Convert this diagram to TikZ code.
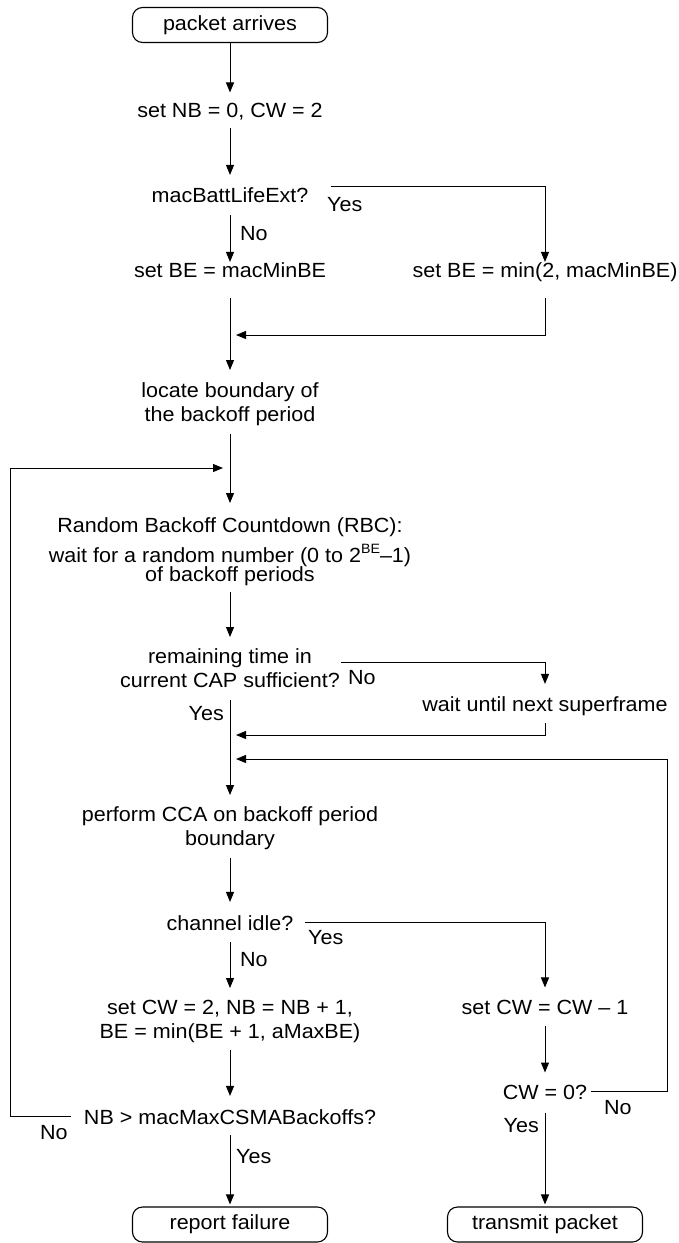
\documentclass[tikz,border=0pt]{standalone}
\usepackage{fontspec}
\setmainfont[FakeStretch=1.05]{Liberation Sans}
\usetikzlibrary{arrows.meta}
\newcommand{\dfont}{\fontsize{20.5}{24}\selectfont}
\newcommand{\supx}[1]{\raisebox{0.42em}{\fontsize{13.5}{13.5}\selectfont #1}}
\begin{document}
\begin{tikzpicture}[x=1pt,y=-1pt,
  txt/.style={inner sep=0pt, font=\dfont},
  term/.style={draw, line width=1.1pt, rounded corners=10pt, minimum width=195pt,
     minimum height=35pt, inner sep=0pt, font=\dfont},
  arr/.style={line width=1pt, -{Triangle[length=10pt,width=8pt]}},
  ln/.style={line width=1pt}]
\useasboundingbox (0,0) rectangle (678,1243);

% main nodes
\node[term] (start) at (230,25) {packet arrives};
\node[txt, anchor=base] (n2) at (230,117) {set NB = 0, CW = 2};
\node[txt, anchor=base] (n3) at (230,202) {macBattLifeExt?};
\node[txt, anchor=base] (n4) at (230,277) {set BE = macMinBE};
\node[txt, anchor=base] (n5) at (545,277) {set BE = min(2, macMinBE)};
\node[txt, anchor=north, align=center] (n6) at (230,382) {locate boundary of\\the backoff period};
\node[txt, anchor=north, align=center] (n7) at (230,517) {Random Backoff Countdown (RBC):\\[6pt]wait for a random number (0 to 2\supx{BE}–1)\\[-5pt]of backoff periods};
\node[txt, anchor=north, align=center] (n8) at (230,648) {remaining time in\\current CAP sufficient?};
\node[txt, anchor=base] (n9) at (545,711) {wait until next superframe};
\node[txt, anchor=north, align=center] (n10) at (230,806) {perform CCA on backoff period\\boundary};
\node[txt, anchor=base] (n11) at (230,930) {channel idle?};
\node[txt, anchor=north, align=center] (n12) at (230,1000) {set CW = 2, NB = NB + 1,\\BE = min(BE + 1, aMaxBE)};
\node[txt, anchor=base] (n13) at (545,1014) {set CW = CW – 1};
\node[txt, anchor=base] (n14) at (545,1099) {CW = 0?};
\node[txt, anchor=base] (n15) at (230,1124) {NB > macMaxCSMABackoffs?};
\node[term] (fail) at (230,1224.5) {report failure};
\node[term] (tx) at (545,1224.5) {transmit packet};

% junction coordinates
\coordinate (m1) at (230,335);
\coordinate (m2) at (230,468);
\coordinate (m3) at (230,735);
\coordinate (m4) at (230,759);
\coordinate (ll) at (10,468);
\coordinate (rr) at (667,759);

% labels
\node[txt, anchor=base west] (y1) at (327,211) {Yes};
\node[txt, anchor=base west] (no1) at (240,240) {No};
\node[txt, anchor=base west] (no2) at (348,684) {No};
\node[txt, anchor=base east] (y2) at (224,720) {Yes};
\node[txt, anchor=base west] (y3) at (308,944) {Yes};
\node[txt, anchor=base west] (no3) at (240,966) {No};
\node[txt, anchor=base west] (no4) at (604,1114) {No};
\node[txt, anchor=base east] (y4) at (539,1132) {Yes};
\node[txt, anchor=base west] (no5) at (40,1139) {No};
\node[txt, anchor=base west] (y5) at (236,1163) {Yes};

% connectors
\draw[arr] (start) -- ([yshift=10pt]n2.north);
\draw[arr] ([yshift=-11pt]n2.base) -- ([yshift=12pt]n3.north);
\draw[arr] ([xshift=22pt]n3.north east) -| (n5.north);
\draw[arr] ([yshift=-13pt]n3.base) -- (n4.north);
\draw[arr] ([yshift=-21pt]n4.base) -- ([yshift=12pt]n6.north);
\draw[arr] ([yshift=-21pt]n5.base) |- ([xshift=6pt]m1);
\draw[arr] ([yshift=-8pt]n6.south) -- ([yshift=14pt]n7.north);
\draw[arr] ([yshift=-6pt]n7.south) -- ([yshift=11pt]n8.north);
\draw[arr] ([xshift=1pt,yshift=5pt]n8.east) -| ([yshift=12pt]n9.north);
\draw[arr] ([yshift=-13pt]n8.south) -- ([yshift=11pt]n10.north);
\draw[arr] ([yshift=-12pt]n9.base) |- ([xshift=6pt]m3);
\draw[arr] ([yshift=-8pt]n10.south) -- ([yshift=13pt]n11.north);
\draw[arr] ([xshift=11pt]n11.east) -| ([yshift=12pt]n13.north);
\draw[arr] ([yshift=-12pt]n11.base) -- ([yshift=12pt]n12.north);
\draw[arr] ([yshift=-7pt]n12.south) -- ([yshift=13pt]n15.north);
\draw[arr] ([yshift=-12pt]n13.base) -- ([yshift=12pt]n14.north);
\draw[arr] ([yshift=-14pt]n14.base) -- ([yshift=2pt]tx.north);
\draw[arr] ([xshift=4pt]n14.east) -| (rr) -- ([xshift=6pt]m4);
\draw[arr] ([yshift=-11pt]n15.base) -- ([yshift=2pt]fail.north);
\draw[arr] ([xshift=-13pt]n15.west) -| (ll) -- ([xshift=-7pt]m2);
\end{tikzpicture}
\end{document}
